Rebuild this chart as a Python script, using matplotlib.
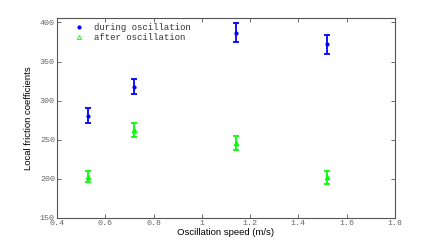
import matplotlib
matplotlib.use("Agg")
import matplotlib.pyplot as plt

speed = [0.53, 0.72, 1.14, 1.52]
during = [281, 318, 387, 372]
during_err = [10, 10, 12, 12]
after = [203, 263, 246, 202]
after_err = [6.5, 9, 8.5, 8.5]

xticks = [0.4, 0.6, 0.8, 1.0, 1.2, 1.4, 1.6, 1.8]
xticklabels = ["0.4", "0.6", "0.8", "1", "1.2", "1.4", "1.6", "1.8"]
yticks = [150, 200, 250, 300, 350, 400]

fig = plt.figure(figsize=(4.36, 2.46), dpi=100)
ax = fig.add_axes([57/436, 1-218/246, (395-57)/436, (218-17.7)/246])

blue = "#0000ff"
green = "#00ff00"
ax.errorbar(speed, during, yerr=during_err, fmt='o', color=blue, ms=2,
            elinewidth=1.3, capsize=2.5, capthick=1.3, label="during oscillation")
ax.errorbar(speed, after, yerr=after_err, fmt='^', color=green, ms=3,
            elinewidth=1.3, capsize=2.5, capthick=1.3, label="after oscillation")

ax.set_xlim(0.4, 1.8)
ax.set_ylim(150, 406)
ax.set_xticks(xticks)
ax.set_xticklabels(xticklabels)
ax.set_yticks(yticks)

gray = "#555555"
for s in ax.spines.values():
    s.set_color(gray)
    s.set_linewidth(0.8)
ax.tick_params(direction='in', top=True, right=True, length=3, width=0.6,
               colors=gray, labelsize=6, pad=1.5)
for lab in ax.get_xticklabels() + ax.get_yticklabels():
    lab.set_family("Liberation Mono")
    lab.set_color("#666666")

ax.set_xlabel("Oscillation speed (m/s)", family="Liberation Sans", fontsize=6.8, labelpad=1)
ax.set_ylabel("Local friction coefficients", family="Liberation Sans", fontsize=6.8, labelpad=5)

handles = [
    plt.Line2D([], [], marker='o', ls='none', color=blue, ms=2),
    plt.Line2D([], [], marker='^', ls='none', color=green, mfc='none', ms=3, mew=0.6),
]
leg = ax.legend(handles, ["during oscillation", "after oscillation"], loc='upper left',
                frameon=False, prop={'family': 'Liberation Mono', 'size': 6.5},
                handlelength=1.5, handletextpad=0.9, labelspacing=0.15,
                borderaxespad=0.2, bbox_to_anchor=(0.03, 1.0))
for t in leg.get_texts():
    t.set_color("#333333")

fig.savefig("out.png", dpi=100)
